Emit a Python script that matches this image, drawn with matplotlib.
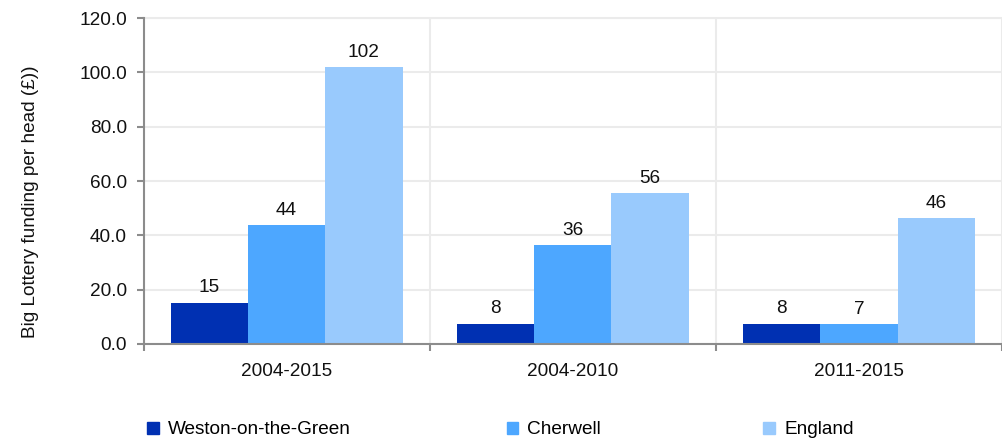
import matplotlib.pyplot as plt
from matplotlib.patches import Patch
import numpy as np

plt.rcParams['font.family'] = ['Liberation Sans', 'DejaVu Sans']

periods = ["2004-2015", "2004-2010", "2011-2015"]
weston = [15.2, 7.5, 7.5]
cherwell = [43.8, 36.4, 7.4]
england = [101.9, 55.6, 46.4]

labels_weston = ["15", "8", "8"]
labels_cherwell = ["44", "36", "7"]
labels_england = ["102", "56", "46"]

series_names = ["Weston-on-the-Green", "Cherwell", "England"]
colors = ["#0030B2", "#4DA7FF", "#99CAFD"]

fs = 13.7

fig = plt.figure(figsize=(10.03, 4.41), dpi=100)
ax = fig.add_axes([0.1431, 0.22, 0.856, 0.739])

x = np.arange(len(periods))
w = 0.27
all_series = [weston, cherwell, england]
all_labels = [labels_weston, labels_cherwell, labels_england]
for i, (vals, labs) in enumerate(zip(all_series, all_labels)):
    pos = x + (i - 1) * w
    ax.bar(pos, vals, width=w, color=colors[i], zorder=3)
    for p, v, t in zip(pos, vals, labs):
        ax.text(p, v + 2.3, t, ha='center', va='bottom', fontsize=fs, color='#111111')

ax.set_xlim(-0.5, 2.5)
ax.set_ylim(0, 120)
ax.set_yticks(np.arange(0, 121, 20))
ax.set_yticklabels([f"{v:.1f}" for v in np.arange(0, 121, 20)])
ax.set_xticks(x)
ax.set_xticklabels(periods)
ax.set_xticks([-0.5, 0.5, 1.5, 2.5], minor=True)

ax.tick_params(axis='x', which='major', length=0, pad=14, labelsize=fs, colors='#111111')
ax.tick_params(axis='x', which='minor', length=5, width=1.5, color='#8c8c8c')
ax.tick_params(axis='y', length=5, width=1.5, color='#8c8c8c', pad=7, labelsize=fs, labelcolor='#111111')

ax.grid(axis='y', color='#ebebeb', linewidth=1.5, zorder=0)
ax.grid(axis='x', which='minor', color='#ebebeb', linewidth=1.5, zorder=0)
ax.axhline(120, color='#ebebeb', linewidth=1.5, zorder=0, clip_on=False)

for s in ['top', 'right']:
    ax.spines[s].set_visible(False)
for s in ['left', 'bottom']:
    ax.spines[s].set_color('#8c8c8c')
    ax.spines[s].set_linewidth(1.5)
    ax.spines[s].set_zorder(4)

ax.set_ylabel("Big Lottery funding per head (£))", fontsize=fs, color='#111111')
ax.yaxis.set_label_coords(-0.122, 0.436)

# legend entries spread along the bottom
legend_x = [0.147, 0.505, 0.761]
for name, c, lx in zip(series_names, colors, legend_x):
    fig.legend(handles=[Patch(color=c)], labels=[name], loc='center left',
               bbox_to_anchor=(lx, 0.025), frameon=False, fontsize=fs,
               handlelength=0.6, handleheight=0.6, handletextpad=0.5,
               borderaxespad=0, borderpad=0)

fig.savefig("out.png", dpi=100)
